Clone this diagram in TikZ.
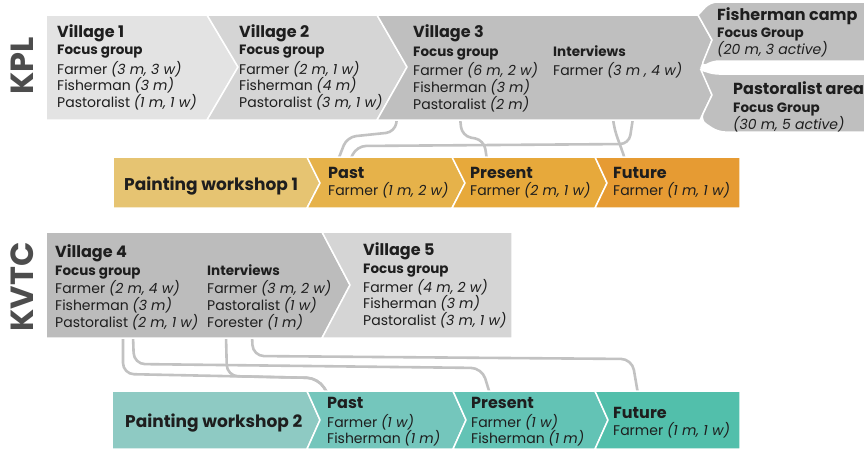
\documentclass[tikz,border=0pt]{standalone}
\usepackage{fontspec}
\setmainfont{Poppins}
\definecolor{gA}{HTML}{E3E3E3}
\definecolor{gB}{HTML}{D5D5D5}
\definecolor{gC}{HTML}{BFBFBF}
\definecolor{gD}{HTML}{BCBCBC}
\definecolor{oA}{HTML}{E6C472}
\definecolor{oB}{HTML}{E6B24A}
\definecolor{oC}{HTML}{E7A93B}
\definecolor{oD}{HTML}{E69B33}
\definecolor{tA}{HTML}{8ECAC3}
\definecolor{tB}{HTML}{74C6BC}
\definecolor{tC}{HTML}{63C3B5}
\definecolor{tD}{HTML}{52BFAB}
\definecolor{txt}{HTML}{1E1E1E}
\definecolor{lbl}{HTML}{4D4D4D}
\definecolor{conn}{HTML}{C2C2C2}
\tikzset{
  blk/.style={draw=white, line width=1.5pt, line join=miter},
  hd/.style={anchor=base west, inner sep=0pt, text=txt, font=\fontsize{16}{16}\selectfont\bfseries},
  sub/.style={anchor=base west, inner sep=0pt, text=txt, font=\fontsize{13.5}{13.5}\selectfont\bfseries},
  ent/.style={anchor=base west, inner sep=0pt, text=txt, font=\fontsize{14}{14}\selectfont},
  pw/.style={anchor=base west, inner sep=0pt, text=txt, font=\fontsize{17}{17}\selectfont\bfseries},
  side/.style={rotate=90, inner sep=0pt, text=lbl, font=\fontsize{32}{32}\selectfont\bfseries},
  cn/.style={draw=conn, line width=2.6pt, rounded corners=9pt, line cap=round},
}
\begin{document}
\begin{tikzpicture}[x=1pt,y=-1pt]
\useasboundingbox (0,0) rectangle (864,448);
% connector endpoints
\coordinate (c1a) at (397,118); \coordinate (c1b) at (338,160);
\coordinate (c2a) at (350,160); \coordinate (c2b) at (633,118);
\coordinate (c3a) at (460,118); \coordinate (c3b) at (487,160);
\coordinate (c4a) at (613,118); \coordinate (c4b) at (625,160);
\coordinate (d1a) at (123,336); \coordinate (d1b) at (328,394);
\coordinate (d2a) at (133,336); \coordinate (d2b) at (490,394);
\coordinate (d3a) at (226,336); \coordinate (d3b) at (328,394);
\coordinate (d4a) at (252,336); \coordinate (d4b) at (638,394);
% connectors
\draw[cn] (c1a) -- (395,132) -- (347,137) -- (c1b);
\draw[cn] (c2a) -- (357,146) -- (629,144) -- (c2b);
\draw[cn] (c3a) -- (462,136) -- (484,140) -- (c3b);
\draw[cn] (c4a) to[out=-85,in=105] (c4b);
\draw[cn,rounded corners=11pt] (d1a) -- (123,374) -- (318,378) -- (d1b);
\draw[cn,rounded corners=11pt] (d2a) -- (134,364) -- (482,368) -- (d2b);
\draw[cn,rounded corners=11pt] (d3a) -- (227,376) -- (318,378) -- (d3b);
\draw[cn,rounded corners=11pt] (d4a) -- (253,356) -- (632,359) -- (d4b);
% KPL row
\fill[gA,blk] (46,15) -- (207,15) -- (238,67) -- (207,120) -- (46,120) -- cycle;
\fill[gB,blk] (207,15) -- (377,15) -- (407,67) -- (377,120) -- (207,120) -- (238,67) -- cycle;
\fill[gC,blk] (377,15) -- (698,15) -- (712,40) -- (701,68) -- (712,95) -- (700,120) -- (377,120) -- (407,67) -- cycle;
\fill[gC,blk] (712,40) -- (698,15) [rounded corners=7pt] -- (710,2) -- (870,2) [sharp corners] -- (870,61) [rounded corners=5pt] -- (714,61) -- (701,67) [sharp corners] -- cycle;
\fill[gC,blk] (712,95) -- (701,70) [rounded corners=5pt] -- (714,74) -- (870,74) [sharp corners] -- (870,132) [rounded corners=7pt] -- (718,132) -- (700,120) [sharp corners] -- cycle;
% painting workshop 1
\fill[oA,blk] (113,157) -- (307,157) -- (320,183) -- (307,208) -- (113,208) -- cycle;
\fill[oB,blk] (307,157) -- (452,157) -- (465,183) -- (452,208) -- (307,208) -- (320,183) -- cycle;
\fill[oC,blk] (452,157) -- (595,157) -- (607,183) -- (595,208) -- (452,208) -- (465,183) -- cycle;
\fill[oD,blk] (595,157) -- (740,157) -- (740,208) -- (595,208) -- (607,183) -- cycle;
% KVTC row
\fill[gD,blk] (46,232) -- (322,232) -- (350,285) -- (322,338) -- (46,338) -- cycle;
\fill[gB,blk] (322,232) -- (512,232) -- (512,338) -- (322,338) -- (350,285) -- cycle;
% painting workshop 2
\fill[tA,blk] (112,391) -- (307,391) -- (320,420) -- (307,449) -- (112,449) -- cycle;
\fill[tB,blk] (307,391) -- (453,391) -- (466,420) -- (453,449) -- (307,449) -- (320,420) -- cycle;
\fill[tC,blk] (453,391) -- (595,391) -- (608,420) -- (595,449) -- (453,449) -- (466,420) -- cycle;
\fill[tD,blk] (595,391) -- (740,391) -- (740,449) -- (595,449) -- (608,420) -- cycle;
% side labels
\node[side] (kpl) at (22,66) {KPL};
\node[side] (kvtc) at (22,287) {KVTC};
% Village 1
\node[hd] (v1h) at (57,37) {Village 1};
\node[sub] (v1s) at (57,54) {Focus group};
\node[ent] (v1a) at (57,74) {Farmer \textit{(3 m, 3 w)}};
\node[ent] (v1b) at (57,90) {Fisherman \textit{(3 m)}};
\node[ent] (v1c) at (57,107) {Pastoralist \textit{(1 m, 1 w)}};
% Village 2
\node[hd] (v2h) at (239,37) {Village 2};
\node[sub] (v2s) at (239,54) {Focus group};
\node[ent] (v2a) at (239,74) {Farmer \textit{(2 m, 1 w)}};
\node[ent] (v2b) at (239,90) {Fisherman \textit{(4 m)}};
\node[ent] (v2c) at (239,107) {Pastoralist \textit{(3 m, 1 w)}};
% Village 3
\node[hd] (v3h) at (413,37) {Village 3};
\node[sub] (v3s) at (413,56) {Focus group};
\node[ent] (v3a) at (413,75) {Farmer \textit{(6 m, 2 w)}};
\node[ent] (v3b) at (413,92) {Fisherman \textit{(3 m)}};
\node[ent] (v3c) at (413,109) {Pastoralist \textit{(2 m)}};
\node[sub] (v3i) at (553,56) {Interviews};
\node[ent] (v3d) at (553,75) {Farmer \textit{(3 m , 4 w)}};
% Fisherman camp
\node[hd] (fch) at (717,20) {Fisherman camp};
\node[sub] (fcs) at (717,37) {Focus Group};
\node[ent] (fca) at (717,54) {\textit{(20 m, 3 active)}};
% Pastoralist area
\node[hd] (pah) at (733,94) {Pastoralist area};
\node[sub] (pas) at (733,112) {Focus Group};
\node[ent] (paa) at (733,129) {\textit{(30 m, 5 active)}};
% Painting workshop 1
\node[pw] (pw1) at (124,190) {Painting workshop 1};
\node[hd] (p1h) at (328,178) {Past};
\node[ent] (p1a) at (328,195) {Farmer \textit{(1 m, 2 w)}};
\node[hd] (q1h) at (470,178) {Present};
\node[ent] (q1a) at (470,195) {Farmer \textit{(2 m, 1 w)}};
\node[hd] (r1h) at (613,178) {Future};
\node[ent] (r1a) at (613,195) {Farmer \textit{(1 m, 1 w)}};
% Village 4
\node[hd] (v4h) at (55,257) {Village 4};
\node[sub] (v4s) at (55,275) {Focus group};
\node[ent] (v4a) at (55,293) {Farmer \textit{(2 m, 4 w)}};
\node[ent] (v4b) at (55,310) {Fisherman \textit{(3 m)}};
\node[ent] (v4c) at (55,327) {Pastoralist \textit{(2 m, 1 w)}};
\node[sub] (v4i) at (207,275) {Interviews};
\node[ent] (v4d) at (207,293) {Farmer \textit{(3 m, 2 w)}};
\node[ent] (v4e) at (207,310) {Pastoralist \textit{(1 w)}};
\node[ent] (v4f) at (207,327) {Forester \textit{(1 m)}};
% Village 5
\node[hd] (v5h) at (363,255) {Village 5};
\node[sub] (v5s) at (363,273) {Focus group};
\node[ent] (v5a) at (363,292) {Farmer \textit{(4 m, 2 w)}};
\node[ent] (v5b) at (363,308) {Fisherman \textit{(3 m)}};
\node[ent] (v5c) at (363,325) {Pastoralist \textit{(3 m, 1 w)}};
% Painting workshop 2
\node[pw] (pw2) at (125,427) {Painting workshop 2};
\node[hd] (p2h) at (327,408) {Past};
\node[ent] (p2a) at (327,427) {Farmer \textit{(1 w)}};
\node[ent] (p2b) at (327,443) {Fisherman \textit{(1 m)}};
\node[hd] (q2h) at (471,408) {Present};
\node[ent] (q2a) at (471,427) {Farmer \textit{(1 w)}};
\node[ent] (q2b) at (471,443) {Fisherman \textit{(1 m)}};
\node[hd] (r2h) at (613,418) {Future};
\node[ent] (r2a) at (613,435) {Farmer \textit{(1 m, 1 w)}};
\end{tikzpicture}
\end{document}
